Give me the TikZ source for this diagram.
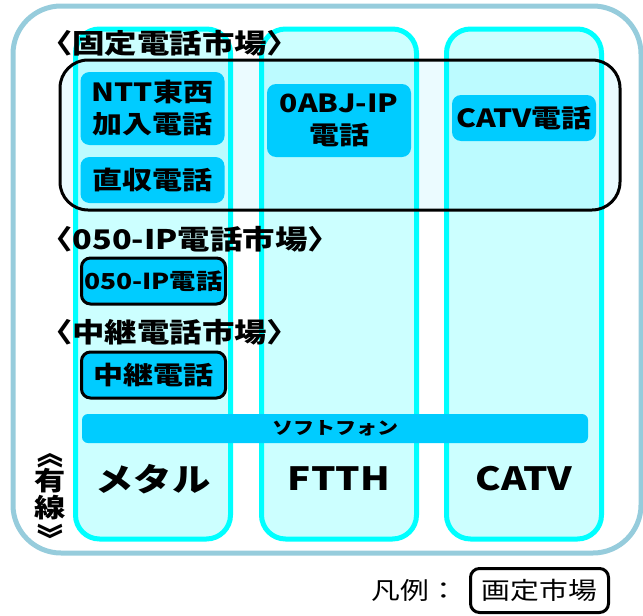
\documentclass[tikz,border=0pt]{standalone}
\usepackage{fontspec}
\usepackage{tikz}
\usetikzlibrary{positioning}
\newfontfamily\jpfont{Noto Sans CJK JP}[FakeStretch=1.2]
\definecolor{outerblue}{RGB}{150,204,220}
\definecolor{wirecyan}{RGB}{0,255,255}
\definecolor{wirefill}{RGB}{204,255,255}
\definecolor{svcblue}{RGB}{0,204,255}

\begin{document}
\begin{tikzpicture}
[   x=1pt,y=-1pt,
    colbox/.style={draw=wirecyan,fill=wirefill,line width=5pt,rounded corners=24pt,minimum width=155pt,minimum height=510pt,inner sep=0pt},
    svcbox/.style={fill=svcblue,rounded corners=9pt,minimum width=144pt,minimum height=#1,inner sep=0pt,align=center,font=\jpfont\bfseries\fontsize{25}{32}\selectfont},
]
\tikzset{market label/.style={anchor=west,inner sep=0pt,font=\jpfont\bfseries\fontsize{27}{30}\selectfont}}
\tikzset{wire label/.style={inner sep=0pt,font=\jpfont\bfseries\fontsize{32}{36}\selectfont}}
\useasboundingbox (0,0) rectangle (643,616);
\node[draw=outerblue,line width=5pt,rounded corners=48pt,minimum width=628pt,minimum height=547pt] (wired) at (327,279.5) {};
\foreach \name/\cx/\lbl in {metal/153/メタル, ftth/339/FTTH, catv/524/CATV}
{
	\node[colbox] (col-\name) at (\cx,284) {};
	\node[wire label] (lbl-\name) at (\cx,479) {\lbl};
}
% vertical label
\node[inner sep=0pt,align=center,font=\jpfont\bfseries\fontsize{26}{27}\selectfont] (wired-lbl) at (50,494) {有\\線};
\node[inner sep=0pt,rotate=-90,font=\jpfont\bfseries\fontsize{26}{27}\selectfont] (wired-open) at (50,453) {《};
\node[inner sep=0pt,rotate=-90,font=\jpfont\bfseries\fontsize{26}{27}\selectfont] (wired-close) at (50,539) {》};

% fixed telephone market
\node[draw=black,line width=3pt,rounded corners=28pt,fill=svcblue,fill opacity=0.08,draw opacity=1,minimum width=560pt,minimum height=150pt] (fixed) at (340,135) {};
\node[market label] (fixed-lbl) at (40,43) {〈固定電話市場〉};
\node[svcbox=73pt] (ntt) at (152.5,108.5) {NTT東西\\加入電話};
\node[svcbox=46pt] (direct) at (152.5,180) {直収電話};
\node[svcbox=73pt] (abj) at (339,120.5) {0ABJ-IP\\電話};
\node[svcbox=46pt] (catv-tel) at (524,118) {CATV電話};

\node[market label] (ip-lbl) at (40,239) {〈050-IP電話市場〉};
\node[svcbox=46pt,draw=black,line width=3pt,font=\jpfont\bfseries\fontsize{22}{26}\selectfont] (ip050) at (153.5,281) {050-IP電話};
\node[market label] (relay-lbl) at (40,332) {〈中継電話市場〉};
\node[svcbox=46pt,draw=black,line width=3pt] (relay) at (153.5,375) {中継電話};

\node[svcbox=29pt,minimum width=506pt,rounded corners=6pt,font=\jpfont\bfseries\fontsize{17.5}{20}\selectfont] (soft) at (335,428.5) {ソフトフォン};

% legend
\node[draw=black,line width=3pt,rounded corners=9pt,minimum width=138pt,minimum height=44pt,font=\jpfont\fontsize{24}{28}\selectfont] (legend) at (539.5,590.5) {画定市場};
\node[left=11pt of legend,inner sep=0pt,font=\jpfont\fontsize{24}{28}\selectfont] (legend-key) {凡例：};
\end{tikzpicture}
\end{document}
